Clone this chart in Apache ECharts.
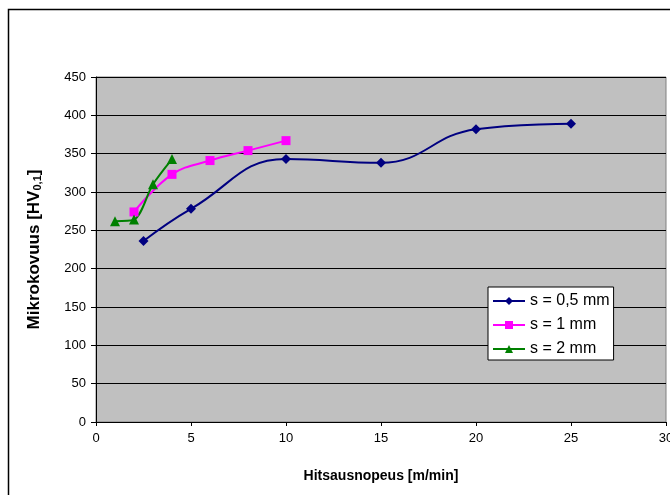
<!DOCTYPE html>
<html>
<head>
<meta charset="utf-8">
<script src="https://cdn.jsdelivr.net/npm/echarts@6/dist/echarts.min.js"></script>
<style>
  html, body { margin: 0; padding: 0; background: #fff; }
  #chart { width: 670px; height: 495px; }
</style>
</head>
<body>
<div id="chart"></div>
<script>
// welding speed [m/min] vs microhardness, three sheet thicknesses
const speed05 = [2.5, 5, 10, 15, 20, 25];
const hard05 = [236, 278, 343, 338, 382, 389];
const speed1 = [2, 4, 6, 8, 10];
const hard1 = [274, 323, 341, 354, 367];
const speed2 = [1, 2, 3, 4];
const hard2 = [262, 264, 310, 343];
const seriesNames = ['s = 0,5 mm', 's = 1 mm', 's = 2 mm'];

const pairs = (xs, ys) => xs.map((x, i) => [x, ys[i]]);
const font = 'Liberation Sans, Arial, sans-serif';

const chart = echarts.init(document.getElementById('chart'));
chart.setOption({
    animation: false,
    textStyle: { fontFamily: font },
    graphic: [{
        type: 'rect',
        shape: { x: 8.5, y: 9.5, width: 700, height: 500 },
        style: { fill: 'none', stroke: '#000', lineWidth: 1.5 },
        z: -10
    }],
    grid: {
        left: 96,
        right: 4,
        top: 77,
        bottom: 73,
        containLabel: false,
        outerBoundsMode: 'none',
        show: true,
        backgroundColor: '#c0c0c0',
        borderColor: '#808080',
        borderWidth: 1
    },
    xAxis: {
        type: 'value',
        min: 0,
        max: 30,
        interval: 5,
        name: 'Hitsausnopeus [m/min]',
        nameLocation: 'middle',
        nameGap: 47,
        nameTextStyle: { fontSize: 14, fontWeight: 'bold', color: '#000', fontFamily: font },
        axisLine: { show: true, lineStyle: { color: '#000', width: 1 } },
        axisTick: { show: true, length: 4, lineStyle: { color: '#000' } },
        axisLabel: { color: '#000', fontSize: 13, margin: 10, fontFamily: font },
        splitLine: { show: false }
    },
    yAxis: {
        type: 'value',
        min: 0,
        max: 450,
        interval: 50,
        name: '{a|Mikrokovuus [HV}{b|0,1}{a|]}',
        nameLocation: 'middle',
        nameGap: 53,
        nameTextStyle: {
            rich: {
                a: { fontSize: 17, fontWeight: 'bold', color: '#000', fontFamily: font },
                b: { fontSize: 11, fontWeight: 'bold', color: '#000', fontFamily: font, verticalAlign: 'bottom' }
            }
        },
        axisLine: { show: true, lineStyle: { color: '#000', width: 1 } },
        axisTick: { show: true, length: 5, lineStyle: { color: '#000' } },
        axisLabel: { color: '#000', fontSize: 13, margin: 10, fontFamily: font },
        splitLine: { show: true, lineStyle: { color: '#000', width: 1 } }
    },
    legend: {
        orient: 'vertical',
        left: 488,
        top: 287,
        data: seriesNames,
        backgroundColor: '#fff',
        borderColor: '#000',
        borderWidth: 1,
        borderRadius: 0,
        padding: [6, 4, 3, 4],
        itemGap: 8,
        itemWidth: 32,
        itemHeight: 10,
        textStyle: { fontSize: 16, color: '#000', fontFamily: font }
    },
    series: [
        {
            name: seriesNames[0],
            type: 'line',
            data: pairs(speed05, hard05),
            smooth: 0.45,
            symbol: 'diamond',
            symbolSize: 10,
            color: '#000080',
            lineStyle: { width: 2, color: '#000080' }
        },
        {
            name: seriesNames[1],
            type: 'line',
            data: pairs(speed1, hard1),
            smooth: 0.4,
            symbol: 'rect',
            symbolSize: 9,
            color: '#ff00ff',
            lineStyle: { width: 2, color: '#ff00ff' }
        },
        {
            name: seriesNames[2],
            type: 'line',
            data: pairs(speed2, hard2),
            smooth: 0.3,
            symbol: 'triangle',
            symbolSize: 10,
            color: '#008000',
            lineStyle: { width: 2, color: '#008000' }
        }
    ]
});
</script>
</body>
</html>
